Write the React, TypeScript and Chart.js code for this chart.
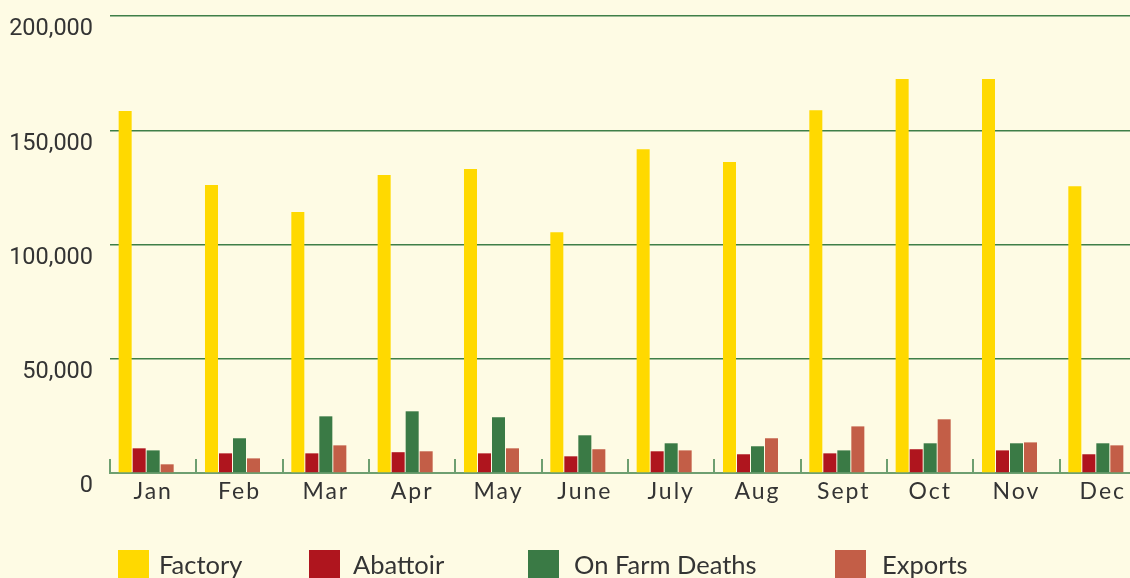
import React, { useEffect, useRef } from "react";
import { Chart, registerables } from "chart.js";

Chart.register(...registerables);

const months = ["Jan", "Feb", "Mar", "Apr", "May", "June", "July", "Aug", "Sept", "Oct", "Nov", "Dec"];
const factory = [158400, 126000, 114200, 130400, 133000, 105400, 141700, 136100, 158800, 172400, 172400, 125500];
const abattoir = [10800, 8600, 8600, 9100, 8600, 7300, 9500, 8200, 8600, 10400, 9900, 8200];
const onFarmDeaths = [9900, 15200, 24800, 27000, 24400, 16500, 13000, 11700, 9900, 13000, 13000, 13000];
const exportsData = [3800, 6400, 12100, 9500, 10800, 10400, 9900, 15200, 20400, 23500, 13400, 12100];
const seriesNames = ["Factory", "Abattoir", "On Farm Deaths", "Exports"];
const seriesColors = ["#FFD900", "#AF151E", "#3A7A45", "#C35E47"];
const yMin = 0;
const yMax = 200000;
const yStep = 50000;

const BG = "#FEFBE4";
const GRID = "#3F7F48";
const AXIS = "#6E9F70";
const TEXT = "#343434";

const CANVAS_W = 1160;
const CANVAS_H = 578;

const legendPos = [
  { box: 118, text: 159 },
  { box: 309, text: 353 },
  { box: 528, text: 574 },
  { box: 835, text: 882 },
];

const catTicks = {
  id: "catTicks",
  beforeDraw(chart: any) {
    chart.ctx.letterSpacing = "0px";
  },
  afterDatasetsDraw(chart: any) {
    const { ctx, chartArea } = chart;
    const x = chart.scales.x;
    const n = months.length;
    const w = (x.right - x.left) / n;
    const start = x.getPixelForValue(0) - w / 2;
    ctx.save();
    ctx.strokeStyle = AXIS;
    ctx.lineWidth = 2;
    for (let i = 0; i <= n; i++) {
      const px = Math.round(start + i * w);
      ctx.beginPath();
      ctx.moveTo(px, chartArea.bottom - 14);
      ctx.lineTo(px, chartArea.bottom);
      ctx.stroke();
    }
    ctx.restore();
    ctx.letterSpacing = "2px";
  },
  afterDraw(chart: any) {
    chart.ctx.letterSpacing = "0px";
  },
};

export default function App() {
  const ref = useRef<HTMLCanvasElement | null>(null);

  useEffect(() => {
    document.body.style.margin = "0";
    document.body.style.background = BG;
    const canvas = ref.current;
    if (!canvas) return;
    const datasets: any[] = [factory, abattoir, onFarmDeaths, exportsData].map((d, i) => ({
      label: seriesNames[i],
      data: d,
      backgroundColor: seriesColors[i],
      borderWidth: 0,
      categoryPercentage: 0.811,
      barPercentage: 0.929,
    }));
    datasets.push({
      label: "",
      data: months.map(() => null),
      backgroundColor: "transparent",
      categoryPercentage: 0.811,
      barPercentage: 0.929,
    });
    const chart = new Chart(canvas, {
      type: "bar",
      data: { labels: months, datasets },
      plugins: [catTicks],
      options: {
        animation: false,
        responsive: false,
        devicePixelRatio: 1,
        layout: { padding: { top: 16, left: 0, right: CANVAS_W - 1146, bottom: 0 } },
        plugins: {
          legend: { display: false },
          tooltip: { enabled: false },
        },
        scales: {
          x: {
            offset: true,
            grid: { display: false, drawTicks: false },
            border: { display: true, color: AXIS, width: 2 },
            ticks: {
              z: 1,
              padding: 5,
              color: TEXT,
              font: { family: "Lato", size: 23 },
              maxRotation: 0,
              autoSkip: false,
            },
            afterFit: (s: any) => {
              s.height = 578 - 473;
              s.paddingLeft = 0;
              s.paddingRight = 0;
            },
          },
          y: {
            min: yMin,
            max: yMax,
            grid: {
              drawTicks: false,
              color: (c: any) => (c.tick && c.tick.value === 0 ? "rgba(0,0,0,0)" : GRID),
              lineWidth: 1.5,
            },
            border: { display: false },
            ticks: {
              stepSize: yStep,
              padding: 17,
              labelOffset: 13.5,
              color: TEXT,
              font: { family: "Roboto", size: 23.5 },
              callback: (v: any) => Number(v).toLocaleString("en-US"),
            },
            afterFit: (s: any) => {
              s.width = 110;
              s.paddingTop = 0;
              s.paddingBottom = 0;
            },
          },
        },
      },
    });
    return () => chart.destroy();
  }, []);

  return (
    <div
      style={{
        position: "fixed",
        left: 0,
        top: 0,
        width: "100vw",
        height: "100vh",
        background: BG,
        overflow: "hidden",
      }}
    >
      <canvas
        ref={ref}
        width={CANVAS_W}
        height={CANVAS_H}
        style={{ position: "absolute", left: 0, top: 0, width: CANVAS_W, height: CANVAS_H }}
      />
      {seriesNames.map((name, i) => (
        <React.Fragment key={name}>
          <div
            style={{
              position: "absolute",
              left: legendPos[i].box,
              top: 550,
              width: 31,
              height: 31,
              background: seriesColors[i],
            }}
          />
          <div
            style={{
              position: "absolute",
              left: legendPos[i].text,
              top: 551,
              fontFamily: "Lato",
              fontSize: 25.5,
              lineHeight: "26px",
              color: TEXT,
              whiteSpace: "nowrap",
            }}
          >
            {name}
          </div>
        </React.Fragment>
      ))}
    </div>
  );
}
